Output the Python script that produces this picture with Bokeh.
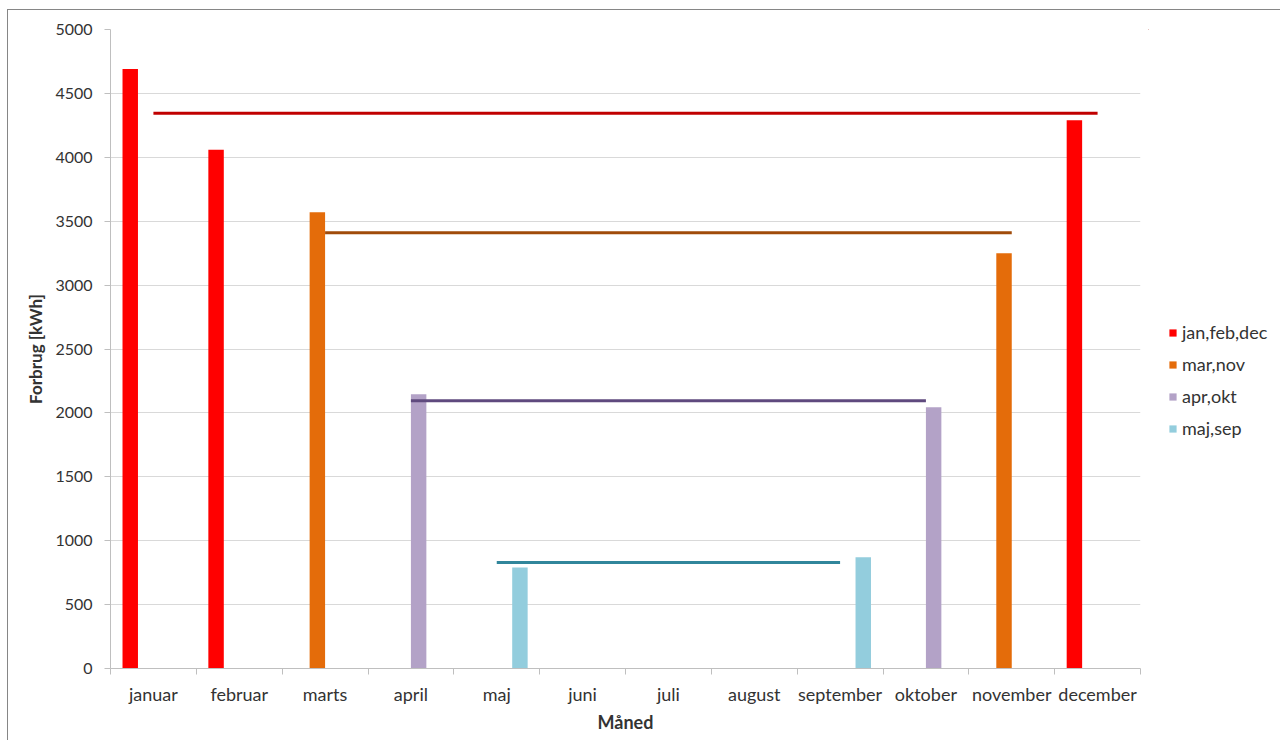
from bokeh.plotting import figure
from bokeh.layouts import row
from bokeh.models import Range1d, FixedTicker, SingleIntervalTicker, Legend, LegendItem
from bokeh.embed import file_html
from bokeh.resources import INLINE

months = ["januar", "februar", "marts", "april", "maj", "juni", "juli",
          "august", "september", "oktober", "november", "december"]

series_names = ["jan,feb,dec", "mar,nov", "apr,okt", "maj,sep"]
red_months = ["januar", "februar", "december"]
red_values = [4690, 4060, 4290]
orange_months = ["marts", "november"]
orange_values = [3570, 3250]
purple_months = ["april", "oktober"]
purple_values = [2145, 2045]
cyan_months = ["maj", "september"]
cyan_values = [790, 870]

# average lines (start month, end month, level)
avg_start = ["januar", "marts", "april", "maj"]
avg_end = ["december", "november", "oktober", "september"]
avg_values = [4345, 3410, 2095, 830]

bar_colors = ["#FF0000", "#E46C0A", "#B3A2C7", "#93CDDD"]
line_colors = ["#C00000", "#A04B0A", "#5F4A7E", "#31869B"]
offsets = [-0.27, -0.09, 0.09, 0.27]
bar_w = 0.18

FONT = "Lato"
TXT = "#333333"
H = 730

p = figure(width=1140, height=H, output_backend="svg", toolbar_location=None,
           x_range=Range1d(0, 12), y_range=Range1d(0, 5000),
           min_border_left=102, min_border_right=8, min_border_top=19, min_border_bottom=72)
p.outline_line_color = None

centers = [i + 0.5 for i in range(len(months))]

xa = p.xaxis[0]
xa.ticker = FixedTicker(ticks=centers, minor_ticks=list(range(0, 13)))
xa.major_label_overrides = {c: m for c, m in zip(centers, months)}
xa.major_tick_line_color = None
xa.minor_tick_line_color = "#BFBFBF"
xa.minor_tick_in = 0
xa.minor_tick_out = 6
xa.axis_line_color = "#BFBFBF"
xa.major_label_standoff = 8
xa.major_label_text_font = FONT
xa.major_label_text_font_size = "18px"
xa.major_label_text_color = TXT
xa.axis_label = "Måned"
xa.axis_label_text_font = FONT
xa.axis_label_text_font_size = "18px"
xa.axis_label_text_font_style = "bold"
xa.axis_label_text_color = TXT
xa.axis_label_standoff = 3

ya = p.yaxis[0]
ya.ticker = SingleIntervalTicker(interval=500, num_minor_ticks=0)
ya.major_tick_line_color = "#BFBFBF"
ya.major_tick_in = 0
ya.major_tick_out = 6
ya.minor_tick_line_color = None
ya.axis_line_color = "#BFBFBF"
ya.major_label_standoff = 12
ya.major_label_text_font = FONT
ya.major_label_text_font_size = "16px"
ya.major_label_text_color = TXT
ya.axis_label = "Forbrug [kWh]"
ya.axis_label_text_font = FONT
ya.axis_label_text_font_size = "17px"
ya.axis_label_text_font_style = "bold"
ya.axis_label_text_color = TXT
ya.axis_label_standoff = 6

p.xgrid.grid_line_color = None
p.ygrid.grid_line_color = "#D9D9D9"
p.ygrid.ticker = SingleIntervalTicker(interval=500, num_minor_ticks=0)

all_months = [red_months, orange_months, purple_months, cyan_months]
all_values = [red_values, orange_values, purple_values, cyan_values]
all_x = []
for k in range(4):
    xs = [months.index(m) + 0.5 + offsets[k] for m in all_months[k]]
    all_x.append(xs)
    p.vbar(x=xs, top=all_values[k], bottom=0, width=bar_w,
           fill_color=bar_colors[k], line_color=None)

for k in range(4):
    x0 = months.index(avg_start[k]) + 0.5
    x1 = months.index(avg_end[k]) + 0.5
    p.line(x=[x0, x1], y=[avg_values[k], avg_values[k]],
           line_color=line_colors[k], line_width=3)

# legend panel (separate figure to the right of the plot; its ranges keep the bars out of view)
pl = figure(width=132, height=H, output_backend="svg", toolbar_location=None,
            x_range=Range1d(100, 101), y_range=Range1d(-20000, -10000),
            x_axis_location=None, y_axis_location=None, min_border=0)
pl.outline_line_color = None
pl.grid.visible = False
items = []
for k in range(4):
    r = pl.vbar(x=all_x[k], top=all_values[k], bottom=0, width=bar_w,
                fill_color=bar_colors[k], line_color=None)
    items.append(LegendItem(label=series_names[k], renderers=[r]))

legend = Legend(items=items, location=(20, 229))
legend.background_fill_alpha = 0
legend.border_line_color = None
legend.glyph_width = 9
legend.glyph_height = 9
legend.label_text_font = FONT
legend.label_text_font_size = "18px"
legend.label_text_color = TXT
legend.label_standoff = 5
legend.spacing = 10
legend.label_height = 20
legend.padding = 0
legend.margin = 0
pl.add_layout(legend, "center")

layout = row(p, pl)
layout.styles = {"border-left": "1px solid #868686", "border-top": "1px solid #868686",
                 "margin-left": "7px", "margin-top": "9px"}

open("out.html", "w").write(file_html(layout, INLINE))
